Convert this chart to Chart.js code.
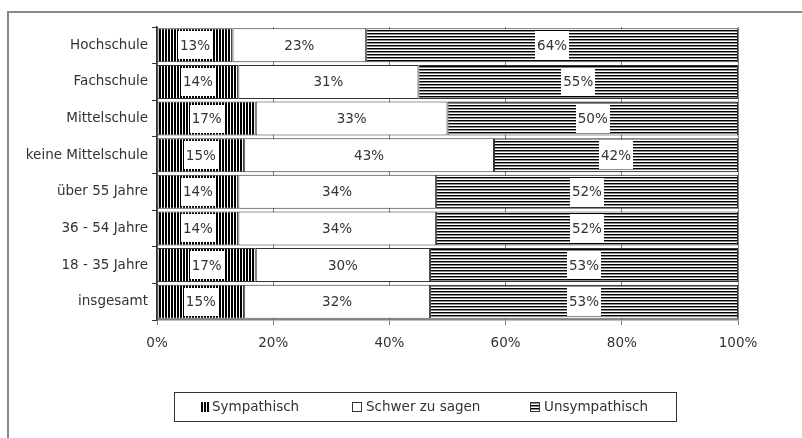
<!DOCTYPE html>
<html>
<head>
<meta charset="utf-8">
<script src="https://cdn.jsdelivr.net/npm/chart.js@4"></script>
<style>
  html, body { margin: 0; padding: 0; background: #fff; }
  #wrap { width: 802px; height: 438px; }
</style>
</head>
<body>
<div id="wrap"><canvas id="chartOne" width="802" height="438"></canvas></div>
<script>
var categories = ['Hochschule', 'Fachschule', 'Mittelschule', 'keine Mittelschule',
    'über 55 Jahre', '36 - 54 Jahre', '18 - 35 Jahre', 'insgesamt'];
var sympathisch = [13, 14, 17, 15, 14, 14, 17, 15];
var schwerZuSagen = [23, 31, 33, 43, 34, 34, 30, 32];
var unsympathisch = [64, 55, 50, 42, 52, 52, 53, 53];
var seriesNames = ['Sympathisch', 'Schwer zu sagen', 'Unsympathisch'];
var xTicks = [0, 20, 40, 60, 80, 100];

var FONT = '"DejaVu Sans", sans-serif';
var TEXT = '#333333';

function stripes(vertical) {
    var c = document.createElement('canvas');
    c.width = 3; c.height = 3;
    var g = c.getContext('2d');
    g.fillStyle = '#ffffff';
    g.fillRect(0, 0, 3, 3);
    if (vertical) {
        g.fillStyle = '#000000'; g.fillRect(0, 0, 2, 3);
    } else {
        g.fillStyle = '#000000'; g.fillRect(0, 0, 3, 1);
        g.fillStyle = '#8c8c8c'; g.fillRect(0, 1, 3, 1);
    }
    return g.createPattern(c, 'repeat');
}

var fills = [stripes(true), '#ffffff', stripes(false)];

// outer frame, value labels and boxed legend
var extras = {
    id: 'extras',
    beforeDraw: function (chart) {
        var ctx = chart.ctx;
        ctx.save();
        ctx.strokeStyle = '#888888';
        ctx.lineWidth = 2;
        ctx.beginPath();
        ctx.moveTo(8, 438);
        ctx.lineTo(8, 12);
        ctx.lineTo(802, 12);
        ctx.stroke();
        ctx.restore();
    },
    afterDatasetsDraw: function (chart) {
        var ctx = chart.ctx;
        ctx.save();
        ctx.font = '13.5px ' + FONT;
        ctx.textAlign = 'center';
        ctx.textBaseline = 'middle';
        chart.data.datasets.forEach(function (ds, i) {
            chart.getDatasetMeta(i).data.forEach(function (bar, j) {
                var txt = ds.data[j] + '%';
                var cx = (bar.x + bar.base) / 2;
                var w = ctx.measureText(txt).width + 4;
                var h = bar.height - 6;
                ctx.fillStyle = '#ffffff';
                ctx.fillRect(Math.round(cx - w / 2), Math.round(bar.y - h / 2), Math.round(w), Math.round(h));
                ctx.fillStyle = TEXT;
                ctx.fillText(txt, cx, bar.y + 1);
            });
        });

        // legend
        ctx.strokeStyle = '#333333';
        ctx.lineWidth = 1;
        ctx.strokeRect(174.5, 392.5, 502, 29);
        var items = [[200, 212], [352, 366], [530, 544]];
        ctx.textAlign = 'left';
        items.forEach(function (it, k) {
            ctx.fillStyle = fills[k];
            ctx.fillRect(it[0], 402, 9, 10);
            ctx.strokeStyle = '#333333';
            if (k !== 0) ctx.strokeRect(it[0] + 0.5, 402.5, 9, 9);
            ctx.fillStyle = TEXT;
            ctx.fillText(seriesNames[k], it[1], 407);
        });
        ctx.restore();
    }
};

var chart = new Chart(document.getElementById('chartOne'), {
    type: 'bar',
    data: {
        labels: categories,
        datasets: [
            { label: seriesNames[0], data: sympathisch, backgroundColor: fills[0] },
            { label: seriesNames[1], data: schwerZuSagen, backgroundColor: fills[1] },
            { label: seriesNames[2], data: unsympathisch, backgroundColor: fills[2] }
        ].map(function (d) {
            d.borderColor = '#333333';
            d.borderWidth = 1;
            d.borderSkipped = false;
            d.categoryPercentage = 1;
            d.barPercentage = 0.93;
            return d;
        })
    },
    options: {
        indexAxis: 'y',
        responsive: false,
        animation: false,
        layout: { padding: { top: 27, right: 64, left: 0, bottom: 0 } },
        plugins: { legend: { display: false }, tooltip: { enabled: false } },
        scales: {
            x: {
                stacked: true,
                min: 0,
                max: 100,
                afterBuildTicks: function (scale) {
                    scale.ticks = xTicks.map(function (v) { return { value: v }; });
                },
                afterFit: function (scale) { scale.height = 118; },
                grid: { color: '#808080', tickLength: 5, lineWidth: 1 },
                border: { color: '#808080', width: 1.5 },
                ticks: {
                    color: TEXT,
                    padding: 10,
                    font: { family: FONT, size: 13.5 },
                    callback: function (v) { return v + '%'; }
                }
            },
            y: {
                stacked: true,
                afterFit: function (scale) { scale.width = 157; },
                grid: { drawOnChartArea: false, color: '#333333', tickLength: 5 },
                border: { color: '#333333', width: 1.5 },
                ticks: {
                    color: TEXT,
                    padding: 4,
                    font: { family: FONT, size: 13.5 }
                }
            }
        }
    },
    plugins: [extras]
});
</script>
</body>
</html>
